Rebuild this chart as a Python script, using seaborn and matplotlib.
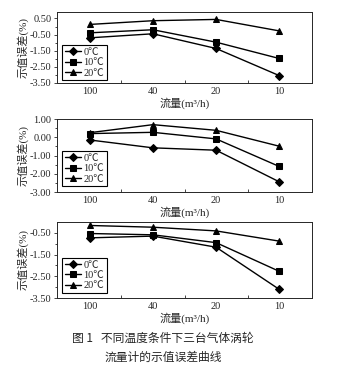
import matplotlib
matplotlib.use("Agg")
import matplotlib.pyplot as plt
import seaborn as sns
import pandas as pd
from matplotlib.ticker import FixedLocator, FormatStrFormatter

sns.set_style("ticks")
plt.rcParams['font.family'] = ['Liberation Serif', 'Noto Sans CJK SC', 'DejaVu Sans']
plt.rcParams['axes.unicode_minus'] = True

flow_labels = ["100", "40", "20", "10"]
temps = ["0℃", "10℃", "20℃"]

# panel 1
p1_t0 = [-0.70, -0.45, -1.36, -3.04]
p1_t10 = [-0.39, -0.20, -0.97, -1.98]
p1_t20 = [0.13, 0.36, 0.44, -0.27]
# panel 2
p2_t0 = [-0.15, -0.58, -0.71, -2.44]
p2_t10 = [0.20, 0.27, -0.09, -1.60]
p2_t20 = [0.25, 0.69, 0.38, -0.49]
# panel 3
p3_t0 = [-0.73, -0.65, -1.16, -3.10]
p3_t10 = [-0.53, -0.59, -0.95, -2.27]
p3_t20 = [-0.16, -0.24, -0.41, -0.88]

panels = [
    dict(series=[p1_t0, p1_t10, p1_t20], ylim=(-3.5, 0.9),
         major=[0.5, -0.5, -1.5, -2.5, -3.5], minor=[0, -1, -2, -3],
         rect=[57/339, 1-83/368, 255/339, 71/368], leg=(0.02, 0.04)),
    dict(series=[p2_t0, p2_t10, p2_t20], ylim=(-3.0, 1.0),
         major=[1, 0, -1, -2, -3], minor=[0.5, -0.5, -1.5, -2.5],
         rect=[57/339, 1-192/368, 255/339, 73/368], leg=(0.02, 0.08)),
    dict(series=[p3_t0, p3_t10, p3_t20], ylim=(-3.5, 0.0),
         major=[-0.5, -1.5, -2.5, -3.5], minor=[-1, -2, -3],
         rect=[57/339, 1-298/368, 255/339, 76/368], leg=(0.02, 0.066)),
]

markers = {"0℃": "D", "10℃": "s", "20℃": "^"}

fig = plt.figure(figsize=(3.39, 3.68), dpi=100)
for p in panels:
    ax = fig.add_axes(p["rect"])
    rows = []
    for t, vals in zip(temps, p["series"]):
        for i, v in enumerate(vals):
            rows.append({"pos": i, "val": v, "temp": t})
    df = pd.DataFrame(rows)
    sns.lineplot(data=df, x="pos", y="val", style="temp", markers=markers,
                 dashes=False, color="black", linewidth=1.0, markersize=4.5,
                 markeredgecolor="black", ax=ax, legend=True)
    ax.set_xlim(-0.52, 3.52)
    ax.set_ylim(*p["ylim"])
    ax.set_xticks(range(4))
    ax.set_xticklabels(flow_labels, fontsize=7.5)
    ax.xaxis.set_minor_locator(FixedLocator([0.5, 1.5, 2.5]))
    ax.tick_params(axis="x", which="major", length=0, pad=3)
    ax.tick_params(axis="x", which="minor", direction="in", length=2.5, width=0.6)
    ax.yaxis.set_major_locator(FixedLocator(p["major"]))
    ax.yaxis.set_minor_locator(FixedLocator(p["minor"]))
    ax.yaxis.set_major_formatter(FormatStrFormatter("%.2f"))
    ax.tick_params(axis="y", which="major", direction="out", length=2.5, width=0.6,
                   labelsize=7.5, pad=1.5)
    ax.tick_params(axis="y", which="minor", direction="out", length=1.5, width=0.6)
    for s in ax.spines.values():
        s.set_linewidth(0.7)
        s.set_visible(True)
    ax.set_xlabel("流量(m³/h)", fontsize=8, labelpad=1)
    ax.set_ylabel("示值误差(%)", fontsize=8, labelpad=1)
    handles, labels = ax.get_legend_handles_labels()
    leg = ax.legend(handles, labels, loc="lower left", bbox_to_anchor=p["leg"],
                    borderaxespad=0, fontsize=7.5, frameon=True, fancybox=False,
                    edgecolor="black", handlelength=1.6, handletextpad=0.2,
                    labelspacing=0.1, borderpad=0.25, framealpha=1)
    leg.get_frame().set_linewidth(0.8)

fig.text(72/339, 1-338/368, "图 1   不同温度条件下三台气体涡轮", fontsize=8.5,
         ha="left", va="center", family=["Noto Sans CJK SC"])
fig.text(105/339, 1-357/368, "流量计的示值误差曲线", fontsize=8.5,
         ha="left", va="center", family=["Noto Sans CJK SC"])

fig.savefig("out.png", dpi=100, facecolor="white")
